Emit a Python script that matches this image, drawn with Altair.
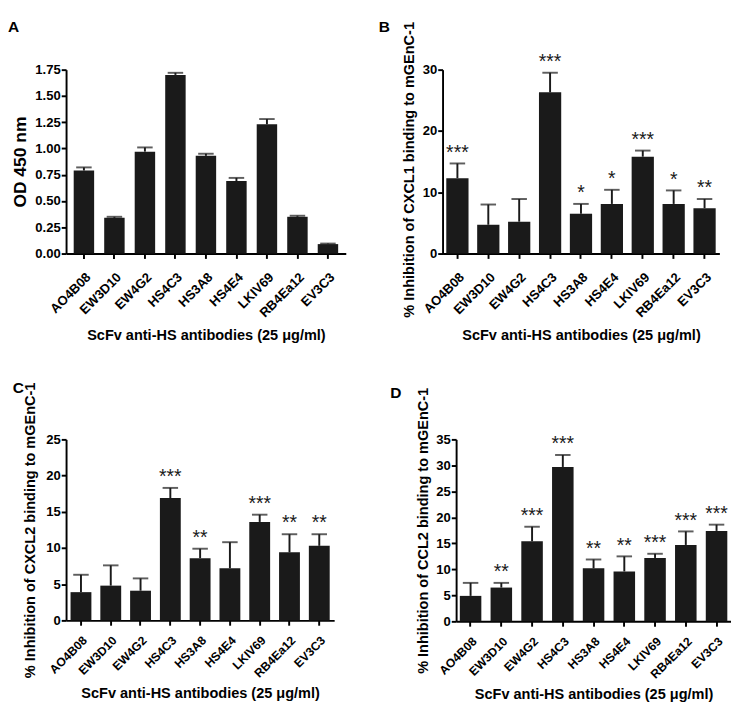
import altair as alt
import pandas as pd

FONT = "Liberation Sans"

cats = ["AO4B08", "EW3D10", "EW4G2", "HS4C3", "HS3A8", "HS4E4", "LKIV69", "RB4Ea12", "EV3C3"]

a_mean = [0.79, 0.34, 0.97, 1.70, 0.93, 0.69, 1.23, 0.35, 0.09]
a_sem = [0.03, 0.01, 0.04, 0.02, 0.02, 0.03, 0.05, 0.01, 0.005]
a_sig = ["", "", "", "", "", "", "", "", ""]

b_mean = [12.3, 4.7, 5.2, 26.3, 6.5, 8.1, 15.8, 8.1, 7.4]
b_sem = [2.4, 3.3, 3.7, 3.2, 1.6, 2.3, 1.0, 2.2, 1.5]
b_sig = ["***", "", "", "***", "*", "*", "***", "*", "**"]

c_mean = [3.9, 4.8, 4.1, 16.9, 8.6, 7.2, 13.6, 9.4, 10.3]
c_sem = [2.4, 2.8, 1.7, 1.4, 1.3, 3.6, 1.0, 2.5, 1.6]
c_sig = ["", "", "", "***", "**", "", "***", "**", "**"]

d_mean = [4.9, 6.5, 15.4, 29.7, 10.2, 9.6, 12.2, 14.7, 17.4]
d_sem = [2.5, 0.9, 2.8, 2.3, 1.7, 2.9, 0.8, 2.6, 1.2]
d_sig = ["", "**", "***", "***", "**", "**", "***", "***", "***"]

x_title = "ScFv anti-HS antibodies (25 \u03bcg/ml)"


def panel(letter, mean, sem, sig, ytitle, ymax, yvals, yfmt, width, height, pin, pout,
          t_offset, t_dx, ytitle_x, ytitle_size=15, ytitle_shift=0, xlab_pad=9,
          xlab_size=13.5, xtitle_pad=9):
    df = pd.DataFrame({"cat": cats, "mean": mean, "sem": sem, "sig": sig})
    df["top"] = df["mean"] + df["sem"]
    xaxis = alt.Axis(labelAngle=-45, labelPadding=xlab_pad, labelFontSize=xlab_size,
                     titlePadding=xtitle_pad)
    xscale = alt.Scale(paddingInner=pin, paddingOuter=pout)
    x = alt.X("cat:N", sort=cats, title=x_title, scale=xscale, axis=xaxis)
    yaxis = alt.Axis(values=yvals, format=yfmt, titleFontSize=ytitle_size,
                     labelPadding=1, titleX=ytitle_x, titleY=height / 2 + ytitle_shift)
    yscale = alt.Scale(domain=[0, ymax], nice=False, zero=True)
    base = alt.Chart(df)
    bars = base.mark_bar(color="#1a1a1a").encode(
        x=x, y=alt.Y("mean:Q", title=ytitle, scale=yscale, axis=yaxis))
    rule = base.mark_rule(color="#1a1a1a", strokeWidth=2).encode(
        x=x, y=alt.Y("mean:Q", title=ytitle, scale=yscale, axis=yaxis), y2="top:Q")
    cap = base.mark_tick(color="#1a1a1a", thickness=2, size=16).encode(
        x=x, y=alt.Y("top:Q", title=ytitle, scale=yscale, axis=yaxis))
    stars = base.transform_filter("datum.sig != ''").mark_text(
        fontSize=20, font=FONT, color="#1a1a1a", baseline="alphabetic", dy=-5).encode(
        x=x, y=alt.Y("top:Q", title=ytitle, scale=yscale, axis=yaxis), text="sig:N")
    return alt.layer(bars, rule, cap, stars).properties(
        width=width, height=height,
        title=alt.TitleParams(letter, anchor="start", frame="bounds", fontSize=16,
                              fontWeight="bold", font=FONT, color="black",
                              offset=t_offset, dx=t_dx))


pa = panel("A", a_mean, a_sem, a_sig, "OD 450 nm", 1.75,
           [0, 0.25, 0.5, 0.75, 1.0, 1.25, 1.5, 1.75], ".2f", 289, 190, 0.33, 0.25,
           29, -4, -38, ytitle_size=18, xlab_pad=12)
pb = panel("B", b_mean, b_sem, b_sig, "% Inhibition of CXCL1 binding to mGEnC-1", 30,
           [0, 10, 20, 30], "d", 286, 190, 0.28, 0.12, -14, -24, -27, ytitle_shift=8,
           xlab_pad=12)
pc = panel("C", c_mean, c_sem, c_sig, "% Inhibition of CXCL2 binding to mGEnC-1", 25,
           [0, 5, 10, 15, 20, 25], "d", 277, 187, 0.3, 0.15, -14, -10, -30,
           xlab_pad=9, xlab_size=12.5, xtitle_pad=7)
pd_ = panel("D", d_mean, d_sem, d_sig, "% Inhibition of CCL2 binding to mGEnC-1", 35,
            [0, 5, 10, 15, 20, 25, 30, 35], "d", 284, 188, 0.3, 0.12, -14, -26, -27,
            xlab_pad=9, xlab_size=12.5, xtitle_pad=7)

chart = alt.vconcat(
    alt.hconcat(pa, pb, spacing=33),
    alt.hconcat(pc, pd_, spacing=57),
    spacing=38,
).properties(padding={"left": 0, "top": 0, "right": 0, "bottom": 0}).configure_view(
    strokeWidth=0
).configure_axis(
    grid=False,
    labelOverlap=False,
    domainColor="black", domainWidth=2,
    tickColor="black", tickWidth=2, tickSize=5,
    labelFont=FONT, labelFontSize=13.5, labelFontWeight="bold", labelColor="black",
    titleFont=FONT, titleFontSize=15, titleFontWeight="bold", titleColor="black",
)

chart.save("out.html", embed_options={"renderer": "svg", "actions": False})
